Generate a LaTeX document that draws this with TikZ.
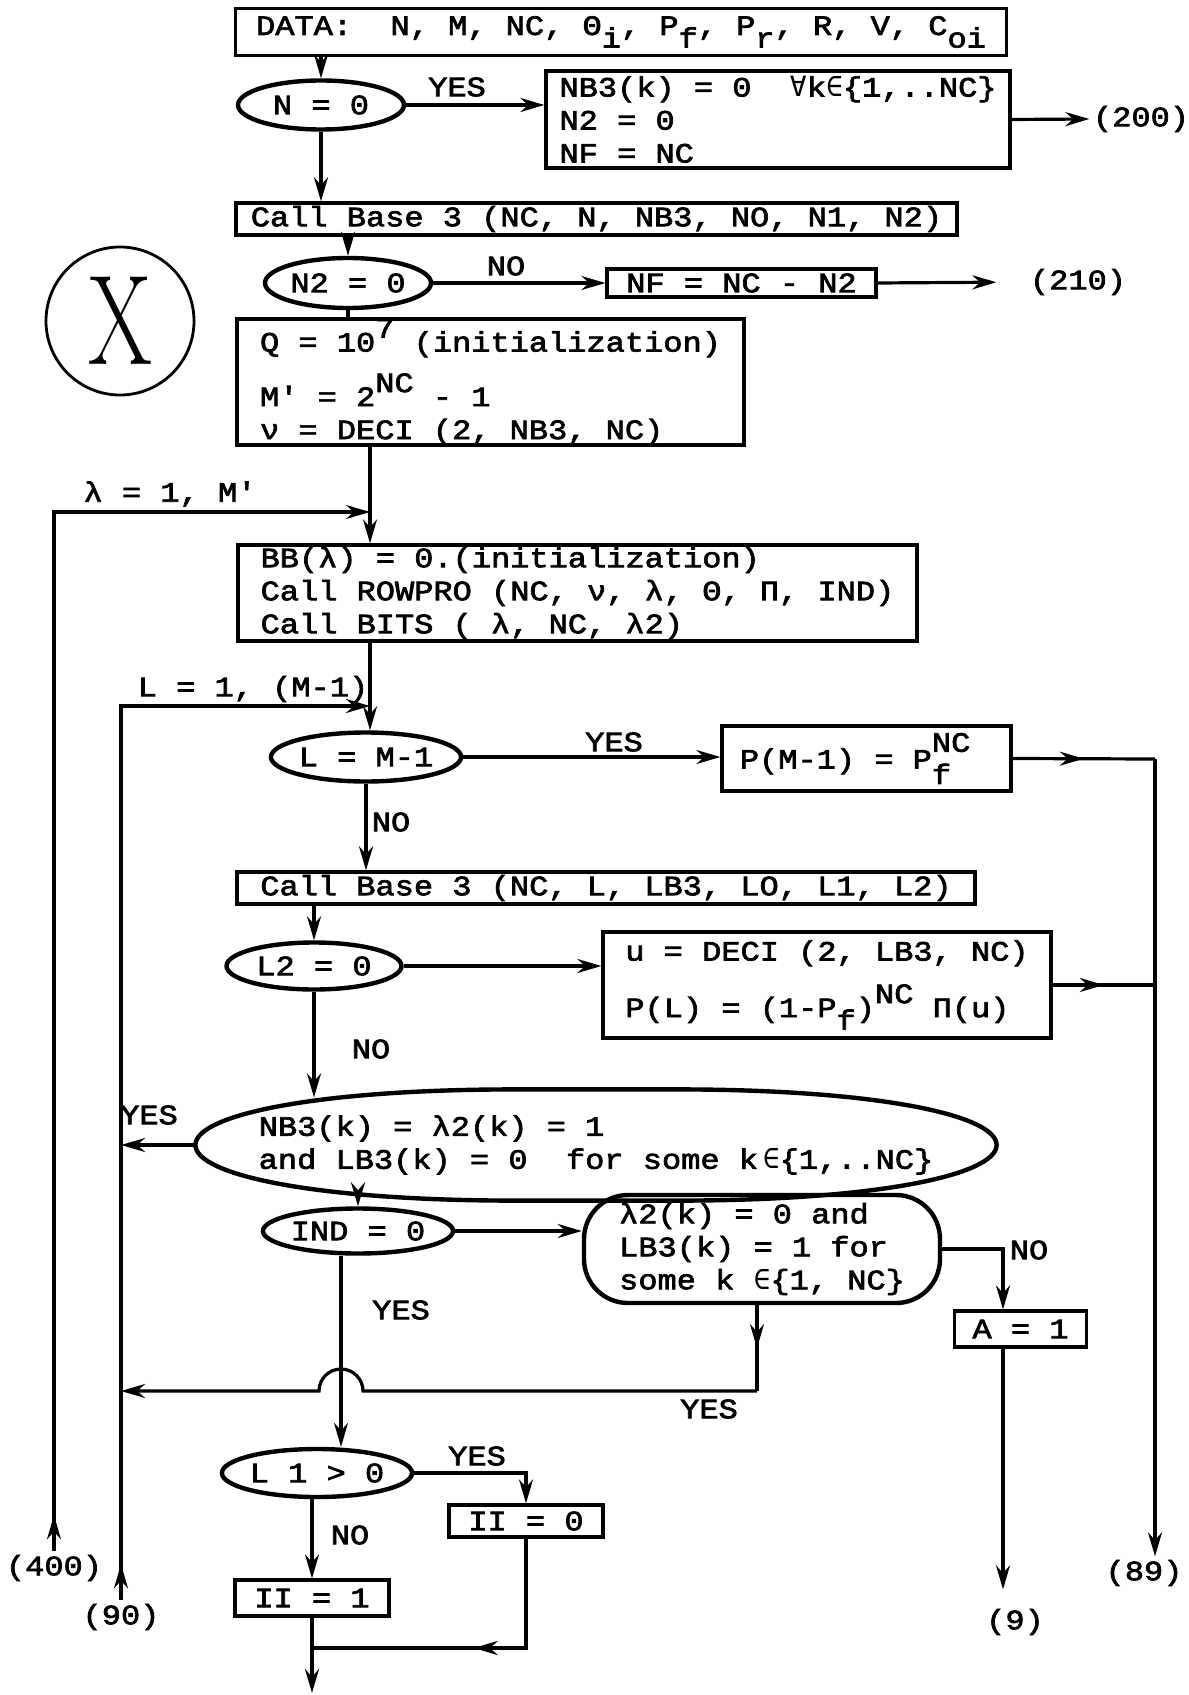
\documentclass[tikz,border=0pt]{standalone}
\usepackage{fontspec}
\setmonofont{Liberation Mono}[FakeStretch=1.143, FakeBold=2.5]
\newfontfamily\symf{DejaVu Sans Mono}
\usepackage{tikz}
\usetikzlibrary{arrows.meta,shapes.geometric,decorations.markings}
\newcommand\tsup[1]{\raisebox{0.5em}{#1}}
\newcommand\tsub[1]{\raisebox{-0.45em}{#1}}

\begin{document}
\begin{tikzpicture}[x=0.5pt, y=-0.5pt, line width=1.6pt,
    font=\ttfamily\fontsize{14}{16.5}\selectfont,
    >={Stealth[length=12pt,width=7pt]},
    box/.style={draw, line width=1.6pt, align=left, inner sep=0pt},
    onebox/.style={draw, line width=1.6pt, inner xsep=0pt, inner ysep=1.5pt},
    dec/.style={draw, ellipse, line width=2.2pt, inner sep=0pt},
    lbl/.style={inner sep=1pt},
    midarrow/.style={postaction={decorate,decoration={markings,
        mark=at position #1 with {\arrow{Stealth[length=12pt,width=7pt]}}}}}]
  \useasboundingbox (0,0) rectangle (1188,1695);

  \node[box, minimum width=385.5pt, minimum height=23.5pt] (data) at (621,32)
    {DATA:\ \ N, M, NC, Θ\tsub{i}, P\tsub{f}, P\tsub{r}, R, V, C\tsub{oi}};
  \node[dec, minimum width=83pt, minimum height=24.5pt] (n0) at (321,105) {N = 0};
  \node[lbl] (yes1) at (457,87) {YES};
  \node[box, minimum width=232pt, minimum height=48.5pt] (nb3) at (778,119.5)
    {NB3(k) = 0\ \ {\symf ∀}k{\symf ∈}\{1,..NC\}\\N2 = 0\\NF = NC};
  \node[lbl] (l200) at (1141,119) {(200)};

  \node[onebox, minimum width=360.5pt, minimum height=14pt] (call1) at (596.5,219)
    {Call Base 3 (NC, N, NB3, NO, N1, N2)};
  \node[dec, minimum width=83pt, minimum height=25pt] (n2) at (348,283) {N2 = 0};
  \node[lbl] (no1) at (506,266) {NO};
  \node[onebox, minimum width=134.5pt, minimum height=14pt] (nf) at (741.5,283) {NF = NC - N2};
  \node[lbl] (l210) at (1078,282) {(210)};

  \node[draw, circle, minimum size=74pt, inner sep=0pt, line width=1.4pt,
    font=\rmfamily\fontsize{64}{64}\selectfont] (xc) at (120,321) {\scalebox{0.72}[1]{X}};

  \node[box, minimum width=253.5pt, minimum height=63pt] (qbox) at (490.5,382)
    {Q = 10\tsup{7} (initialization)\\[7pt]M' = 2\tsup{NC} - 1\\ν = DECI (2, NB3, NC)};
  \coordinate (lam) at (370,512);
  \node[lbl] (llam) at (170,494) {λ = 1, M'};
  \node[box, minimum width=339.5pt, minimum height=48pt] (bb) at (577.5,593)
    {BB(λ) = 0.(initialization)\\Call ROWPRO (NC, ν, λ, Θ, Π, IND)\\Call BITS ( λ, NC, λ2)};

  \coordinate (lloop) at (370,706);
  \node[lbl] (lL) at (253,689) {L = 1, (M-1)};
  \node[dec, minimum width=93.5pt, minimum height=24.5pt] (lm1) at (366,757) {L = M-1};
  \node[lbl] (yes2) at (614,742) {YES};
  \node[box, minimum width=144.5pt, minimum height=32.5pt] (pm) at (866.5,758.5)
    {P(M-1) = P\rlap{\raisebox{0.6em}{NC}}\raisebox{-0.55em}{f}\hspace{21pt}};
  \coordinate (r89) at (1155,759);
  \node[lbl] (l89) at (1144,1573) {(89)};
  \node[lbl] (no2) at (391,822) {NO};

  \node[onebox, minimum width=369pt, minimum height=14.5pt] (call2) at (606,888)
    {Call Base 3 (NC, L, LB3, LO, L1, L2)};
  \node[dec, minimum width=87.5pt, minimum height=23.5pt] (l2) at (314,966) {L2 = 0};
  \node[box, minimum width=224pt, minimum height=53pt] (ubox) at (827,985)
    {u = DECI (2, LB3, NC)\\[8pt]P(L) = (1-P\tsub{f})\tsup{NC} Π(u)};
  \node[lbl] (no3) at (371,1049) {NO};

  \node[minimum width=399pt, minimum height=54pt, align=left, inner sep=0pt] (big) at (596,1145)
    {NB3(k) = λ2(k) = 1\\and LB3(k) = 0\ \ for some k\,{\symf ∈}\{1,..NC\}};
  \draw[line width=2.2pt] ([xshift=160pt]big.north west) -- ([xshift=-160pt]big.north east)
    .. controls ([xshift=-60pt]big.north east) and ([yshift=15pt]big.east) .. (big.east)
    .. controls ([yshift=-15pt]big.east) and ([xshift=-60pt]big.south east) .. ([xshift=-160pt]big.south east)
    -- ([xshift=160pt]big.south west)
    .. controls ([xshift=60pt]big.south west) and ([yshift=-15pt]big.west) .. (big.west)
    .. controls ([yshift=15pt]big.west) and ([xshift=60pt]big.north west) .. cycle;
  \node[lbl] (yes3) at (149,1115) {YES};

  \node[dec, minimum width=86pt, minimum height=22.5pt] (ind) at (358,1231) {IND = 0};
  \node[draw, rounded corners=22pt, line width=2.2pt, minimum width=178pt, minimum height=54pt,
    align=left, inner sep=0pt] (rbox) at (762,1249)
    {λ2(k) = 0 and\\LB3(k) = 1 for\\some k {\symf ∈}\{1, NC\}};
  \coordinate (cno) at (1003,1248);
  \node[lbl] (no5) at (1029,1250) {NO};
  \node[onebox, minimum width=66pt, minimum height=18pt] (a1) at (1020.5,1329) {A = 1};
  \node[lbl] (l9) at (1015,1622) {(9)};
  \node[lbl] (yes4) at (401,1310) {YES};
  \coordinate (hop) at (341,1391);
  \coordinate (ret) at (757,1391);
  \node[lbl] (yes5) at (709,1409) {YES};

  \node[dec, minimum width=87.5pt, minimum height=24pt] (l1) at (317,1473) {L 1 > 0};
  \node[lbl] (yes6) at (477,1456) {YES};
  \node[onebox, minimum width=77pt, minimum height=16pt] (ii0) at (526,1521) {II = 0};
  \node[lbl] (no4) at (350,1535) {NO};
  \node[onebox, minimum width=77pt, minimum height=18pt] (ii1) at (312,1598) {II = 1};
  \coordinate (merge) at (312,1648);
  \coordinate (out) at (312,1693);
  \node[lbl] (l400) at (54,1568) {(400)};
  \node[lbl] (l90) at (121,1617) {(90)};

  \draw[->] (n0.north |- data.south) -- (n0.north);
  \draw[->] (n0.east) -- (n0.east -| nb3.west);
  \draw[->] (nb3.east) -- (l200.west);
  \draw[->] (n0.south) -- (n0.south |- call1.north);
  \draw[->] (n2.north |- call1.south) -- (n2.north);
  \draw[->] (n2.east) -- (nf.west);
  \draw[->, shorten >=15pt] (nf.east) -- (l210.west);
  \draw (n2.south) -- (n2.south |- qbox.north);
  \draw[->] (lam |- qbox.south) -- (lam |- bb.north);
  \draw[->, midarrow=18pt] (l400.north) |- (lam);
  \draw[->] (lloop |- bb.south) -- (lloop |- lm1.north);
  \draw[->, midarrow=18pt] (l90.north) |- (lloop);
  \draw[->] (lm1.east) -- (lm1.east -| pm.west);
  \draw[midarrow=0.5] (pm.east) -- (r89);
  \draw[->] (r89) -- (r89 |- l89.north);
  \draw[->] (lm1.south) -- (lm1.south |- call2.north);
  \draw[->] (l2.north |- call2.south) -- (l2.north);
  \draw[->] (l2.east) -- (l2.east -| ubox.west);
  \draw[midarrow=0.5] (ubox.east) -- (ubox.east -| r89);
  \draw[->] (l2.south) -- ([yshift=-4pt]l2.south |- big.north);
  \draw[->] (big.west) -- (big.west -| l90.north);
  \draw[->] ([yshift=4pt]ind.north |- big.south) -- (ind.north);
  \draw[->] (ind.east) -- (ind.east -| rbox.west);
  \draw[->] (rbox.east) -| (cno |- a1.north);
  \draw[->, shorten >=8pt] (cno |- a1.south) -- (cno |- l9.north);
  \draw[->] (ind.south -| hop) -- (hop |- l1.north);
  \draw[midarrow=0.5] (ret |- rbox.south) -- (ret);
  \draw[->] (ret) -- ([xshift=11pt]hop) arc[start angle=0, end angle=180, radius=11pt]
    -- (ret -| l90.north);
  \draw[->] (l1.east) -| (ii0.north);
  \draw[->] (ii1.north |- l1.south) -- (ii1.north);
  \draw[midarrow=0.5] (ii0.south) |- (merge);
  \draw[->] (ii1.south) -- (out);
\end{tikzpicture}
\end{document}
